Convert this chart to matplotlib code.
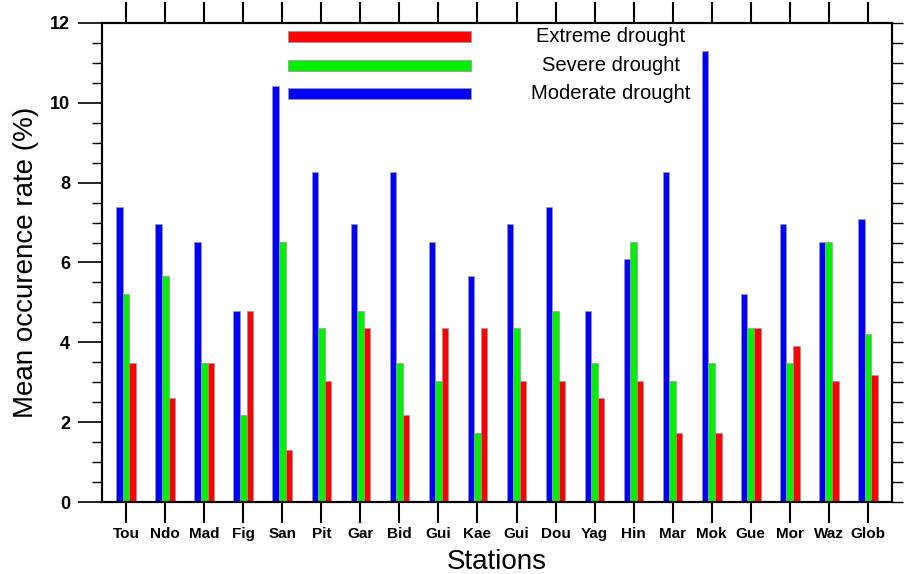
import matplotlib
matplotlib.use("Agg")
import matplotlib.pyplot as plt
import numpy as np

plt.rcParams['font.family'] = ['Liberation Sans', 'DejaVu Sans']

stations = ["Tou", "Ndo", "Mad", "Fig", "San", "Pit", "Gar", "Bid", "Gui", "Kae",
            "Gui", "Dou", "Yag", "Hin", "Mar", "Mok", "Gue", "Mor", "Waz", "Glob"]
moderate = [7.39, 6.96, 6.52, 4.78, 10.43, 8.26, 6.96, 8.26, 6.52, 5.65,
            6.96, 7.39, 4.78, 6.09, 8.26, 11.30, 5.22, 6.96, 6.52, 7.10]
severe = [5.22, 5.65, 3.48, 2.17, 6.52, 4.35, 4.78, 3.48, 3.04, 1.74,
          4.35, 4.78, 3.48, 6.52, 3.04, 3.48, 4.35, 3.48, 6.52, 4.21]
extreme = [3.48, 2.61, 3.48, 4.78, 1.30, 3.04, 4.35, 2.17, 4.35, 4.35,
           3.04, 3.04, 2.61, 3.04, 1.74, 1.74, 4.35, 3.91, 3.04, 3.17]
legend_labels = ["Extreme drought", "Severe drought", "Moderate drought"]
colors = {"Extreme drought": "#ff0000", "Severe drought": "#00f000", "Moderate drought": "#0000ff"}

fig = plt.figure(figsize=(9.09, 5.74), dpi=100)
ax = fig.add_axes([0.1122, 0.1254, 0.8691, 0.8346])

x = np.arange(len(stations))
w = 0.168
ec = "#999999"
ax.bar(x - w, moderate, w, color=colors["Moderate drought"], edgecolor=ec, linewidth=0.5)
ax.bar(x, severe, w, color=colors["Severe drought"], edgecolor=ec, linewidth=0.5)
ax.bar(x + w, extreme, w, color=colors["Extreme drought"], edgecolor=ec, linewidth=0.5)

ax.set_xlim(-0.62, len(stations) - 1 + 0.62)
ax.set_ylim(0, 12)

ax.set_xticks(x)
ax.set_xticklabels(stations, fontsize=11, fontweight='bold')
ax.set_yticks(np.arange(0, 13, 2))
ax.set_yticklabels([str(v) for v in range(0, 13, 2)], fontsize=13, fontweight='bold')
ax.set_yticks(np.arange(0, 12.01, 0.5), minor=True)

ax.tick_params(axis='x', which='major', direction='out', length=15, width=1.5,
               top=True, bottom=True, pad=3)
ax.tick_params(axis='y', which='major', direction='out', length=17, width=1.2, pad=6,
               left=True, right=False)
ax.tick_params(axis='y', which='minor', direction='out', length=7, width=1.0,
               left=True, right=False)

ax2 = ax.twinx()
ax2.set_ylim(0, 12)
ax2.set_yticks(np.arange(0, 12.01, 0.5))
ax2.tick_params(axis='y', direction='out', length=8, width=1.0, labelright=False)

for a in (ax, ax2):
    for s in a.spines.values():
        s.set_linewidth(1.5)

ax.set_ylabel("Mean occurence rate (%)", fontsize=20, labelpad=8)
ax.set_xlabel("Stations", fontsize=20, labelpad=6)

# custom legend
lx0, lw, lh = 0.235, 0.232, 0.023
ly = [0.972, 0.912, 0.852]
for lab, yy in zip(legend_labels, ly):
    ax.add_patch(plt.Rectangle((lx0, yy - lh / 2), lw, lh, transform=ax.transAxes,
                               facecolor=colors[lab], edgecolor=ec, linewidth=0.6,
                               clip_on=False, zorder=5))
    ax.text(0.644, yy, lab, transform=ax.transAxes, ha='center', va='center',
            fontsize=14.5, zorder=6)

fig.savefig("out.png", dpi=100)
